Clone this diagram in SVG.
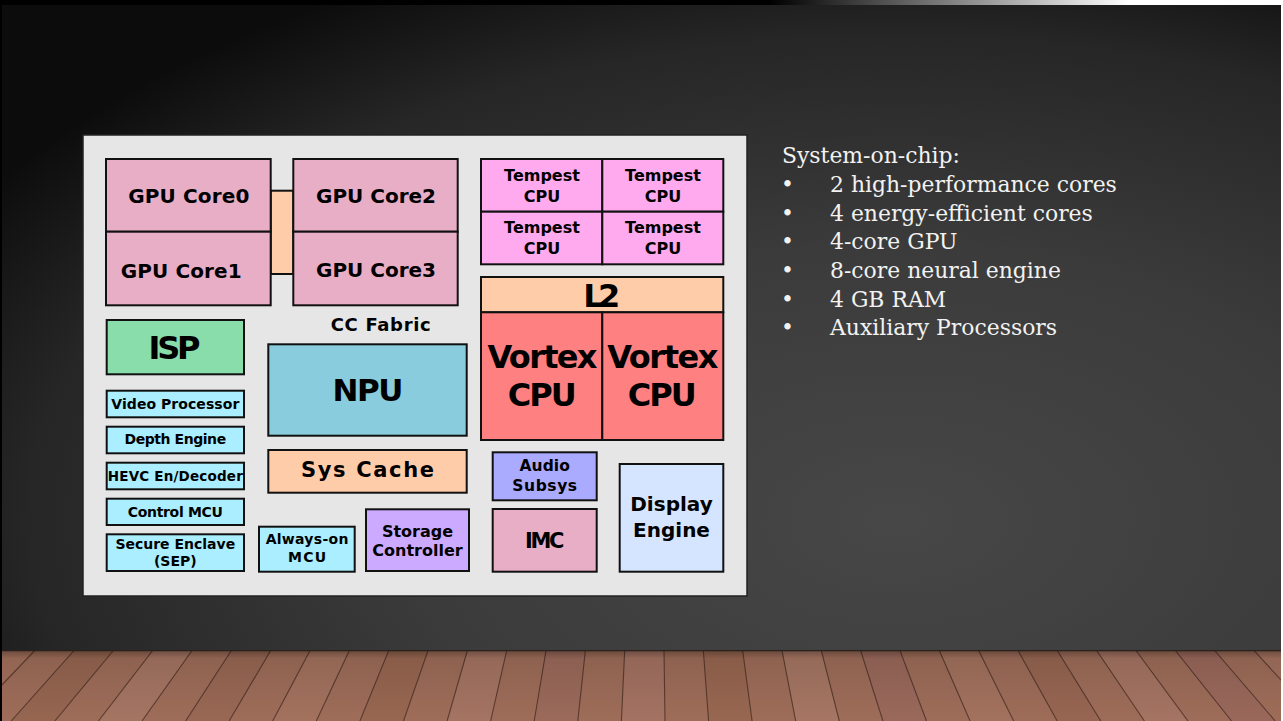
<svg xmlns="http://www.w3.org/2000/svg" width="1283" height="721" viewBox="0 0 1283 721">
<defs>
<radialGradient id="bg" cx="0.7" cy="0.72" r="0.85">
<stop offset="0" stop-color="#474747"/>
<stop offset="0.45" stop-color="#3b3b3b"/>
<stop offset="0.8" stop-color="#262626"/>
<stop offset="1" stop-color="#0c0c0c"/>
</radialGradient>
<linearGradient id="topstrip" x1="0" y1="0" x2="1" y2="0">
<stop offset="0.6" stop-color="#000"/>
<stop offset="0.88" stop-color="#fff"/>
</linearGradient>
<linearGradient id="floorshade" x1="0" y1="0" x2="0" y2="1">
<stop offset="0" stop-color="#000" stop-opacity="0.35"/>
<stop offset="0.12" stop-color="#000" stop-opacity="0.1"/>
<stop offset="1" stop-color="#000" stop-opacity="0"/>
</linearGradient>
<clipPath id="fc"><rect x="2" y="650" width="1279" height="71"/></clipPath>
<style>
.b{stroke:#111;stroke-width:2}
.t{font-family:"DejaVu Sans","Liberation Sans",sans-serif;font-weight:bold;fill:#000;text-anchor:middle}
.r{font-family:"DejaVu Serif","Liberation Serif",serif;font-size:21.9px;fill:#f2f2f2}
.pl{stroke:#4a2e24;stroke-width:1.1;stroke-opacity:0.8}
.gpu{fill:#e8aec6}
.tmp{fill:#ffaaee}
.vtx{fill:#ff8080}
.org{fill:#ffccaa}
.cy{fill:#aaeeff}
</style>
</defs>
<rect width="1283" height="721" fill="#fff"/>
<rect x="0" y="0" width="1283" height="5" fill="url(#topstrip)"/>
<rect x="0" y="5" width="1281" height="716" fill="#000"/>
<rect x="2" y="5" width="1279" height="716" fill="url(#bg)"/>

<g id="floor" clip-path="url(#fc)">
<rect x="2" y="650" width="1279" height="71" fill="#9e6d59"/>
<polygon points="-4.1,650 35.2,650 -32.4,721 -75.9,721" fill="#a3705c"/>
<polygon points="74.5,650 113.8,650 54.8,721 11.2,721" fill="#966651"/>
<polygon points="153.1,650 192.4,650 142,721 98.4,721" fill="#a57563"/>
<polygon points="231.7,650 271,650 229.1,721 185.6,721" fill="#996854"/>
<polygon points="310.3,650 349.6,650 316.3,721 272.7,721" fill="#a3725e"/>
<polygon points="388.9,650 428.2,650 403.5,721 359.9,721" fill="#986751"/>
<polygon points="467.5,650 506.8,650 490.6,721 447.1,721" fill="#a57462"/>
<polygon points="546.1,650 585.4,650 577.8,721 534.2,721" fill="#9b6a5b"/>
<polygon points="624.7,650 664,650 665,721 621.4,721" fill="#a47262"/>
<polygon points="703.3,650 742.6,650 752.1,721 708.6,721" fill="#986751"/>
<polygon points="781.9,650 821.2,650 839.3,721 795.7,721" fill="#a67663"/>
<polygon points="860.5,650 899.8,650 926.5,721 882.9,721" fill="#9a695b"/>
<polygon points="939.1,650 978.4,650 1013.7,721 970.1,721" fill="#a3725e"/>
<polygon points="1017.7,650 1057,650 1100.8,721 1057.2,721" fill="#976652"/>
<polygon points="1096.3,650 1135.6,650 1188,721 1144.4,721" fill="#a57462"/>
<polygon points="1174.9,650 1214.2,650 1275.2,721 1231.6,721" fill="#9a685b"/>
<polygon points="1253.5,650 1292.8,650 1362.3,721 1318.7,721" fill="#a3715e"/>
<g class="pl">
<line x1="-4.1" y1="650" x2="-75.9" y2="721"/>
<line x1="35.2" y1="650" x2="-32.4" y2="721"/>
<line x1="74.5" y1="650" x2="11.2" y2="721"/>
<line x1="113.8" y1="650" x2="54.8" y2="721"/>
<line x1="153.1" y1="650" x2="98.4" y2="721"/>
<line x1="192.4" y1="650" x2="142" y2="721"/>
<line x1="231.7" y1="650" x2="185.6" y2="721"/>
<line x1="271" y1="650" x2="229.1" y2="721"/>
<line x1="310.3" y1="650" x2="272.7" y2="721"/>
<line x1="349.6" y1="650" x2="316.3" y2="721"/>
<line x1="388.9" y1="650" x2="359.9" y2="721"/>
<line x1="428.2" y1="650" x2="403.5" y2="721"/>
<line x1="467.5" y1="650" x2="447.1" y2="721"/>
<line x1="506.8" y1="650" x2="490.6" y2="721"/>
<line x1="546.1" y1="650" x2="534.2" y2="721"/>
<line x1="585.4" y1="650" x2="577.8" y2="721"/>
<line x1="624.7" y1="650" x2="621.4" y2="721"/>
<line x1="664" y1="650" x2="665" y2="721"/>
<line x1="703.3" y1="650" x2="708.6" y2="721"/>
<line x1="742.6" y1="650" x2="752.1" y2="721"/>
<line x1="781.9" y1="650" x2="795.7" y2="721"/>
<line x1="821.2" y1="650" x2="839.3" y2="721"/>
<line x1="860.5" y1="650" x2="882.9" y2="721"/>
<line x1="899.8" y1="650" x2="926.5" y2="721"/>
<line x1="939.1" y1="650" x2="970.1" y2="721"/>
<line x1="978.4" y1="650" x2="1013.7" y2="721"/>
<line x1="1017.7" y1="650" x2="1057.2" y2="721"/>
<line x1="1057" y1="650" x2="1100.8" y2="721"/>
<line x1="1096.3" y1="650" x2="1144.4" y2="721"/>
<line x1="1135.6" y1="650" x2="1188" y2="721"/>
<line x1="1174.9" y1="650" x2="1231.6" y2="721"/>
<line x1="1214.2" y1="650" x2="1275.2" y2="721"/>
<line x1="1253.5" y1="650" x2="1318.7" y2="721"/>
</g>
<rect x="2" y="650" width="1279" height="71" fill="url(#floorshade)"/>
<line x1="2" y1="650.5" x2="1281" y2="650.5" stroke="#2a211d" stroke-width="1.5"/>
</g>

<g id="chip">
<rect x="83" y="135" width="664" height="461" fill="#e6e6e6" stroke="#222" stroke-width="1.5"/>
</g>
<g id="connectors"></g>

<g id="gpu-fabric"><rect class="org b" x="270.7" y="190.7" width="22.6" height="83.3"/></g>
<g id="gpu-core0"><rect class="gpu b" x="106" y="159" width="164.7" height="72.7"/><text class="t" x="188.8" y="202.7" font-size="20" textLength="121">GPU Core0</text></g>
<g id="gpu-core1"><rect class="gpu b" x="106" y="231.7" width="164.7" height="73.6"/><text class="t" x="181.2" y="277.7" font-size="20" textLength="121">GPU Core1</text></g>
<g id="gpu-core2"><rect class="gpu b" x="293.3" y="159" width="164.4" height="72.7"/><text class="t" x="376" y="202.7" font-size="20" textLength="120">GPU Core2</text></g>
<g id="gpu-core3"><rect class="gpu b" x="293.3" y="231.7" width="164.4" height="73.6"/><text class="t" x="376" y="276.7" font-size="20" textLength="120">GPU Core3</text></g>

<g id="tempest0"><rect class="tmp b" x="481" y="159" width="121.3" height="52.7"/><text class="t" x="542" y="180.7" font-size="16">Tempest</text><text class="t" x="542" y="202.3" font-size="16">CPU</text></g>
<g id="tempest1"><rect class="tmp b" x="602.3" y="159" width="121" height="52.7"/><text class="t" x="663" y="180.7" font-size="16">Tempest</text><text class="t" x="663" y="202.3" font-size="16">CPU</text></g>
<g id="tempest2"><rect class="tmp b" x="481" y="211.7" width="121.3" height="52.6"/><text class="t" x="542" y="232.7" font-size="16">Tempest</text><text class="t" x="542" y="254.3" font-size="16">CPU</text></g>
<g id="tempest3"><rect class="tmp b" x="602.3" y="211.7" width="121" height="52.6"/><text class="t" x="663" y="232.7" font-size="16">Tempest</text><text class="t" x="663" y="254.3" font-size="16">CPU</text></g>

<g id="l2"><rect class="org b" x="481" y="277" width="242.3" height="35.3"/><text class="t" x="601.7" y="306.7" font-size="32" textLength="37">L2</text></g>
<g id="vortex0"><rect class="vtx b" x="481" y="312.3" width="121.3" height="127.7"/><text class="t" x="542.5" y="368.3" font-size="32" textLength="110">Vortex</text><text class="t" x="542.2" y="406" font-size="32" textLength="69">CPU</text></g>
<g id="vortex1"><rect class="vtx b" x="602.3" y="312.3" width="121" height="127.7"/><text class="t" x="662.8" y="368.3" font-size="32" textLength="111">Vortex</text><text class="t" x="662.2" y="406" font-size="32" textLength="69">CPU</text></g>

<g id="cc-fabric"><text class="t" x="380.7" y="331.3" font-size="18" textLength="100">CC Fabric</text></g>
<g id="isp"><rect class="b" fill="#88ddaa" x="106.7" y="320" width="137.3" height="54.3"/><text class="t" x="174.5" y="359.3" font-size="32" textLength="52">ISP</text></g>
<g id="npu"><rect class="b" fill="#88ccdd" x="268.3" y="344.3" width="198.4" height="91.4"/><text class="t" x="368" y="401" font-size="31" textLength="71">NPU</text></g>
<g id="sys-cache"><rect class="org b" x="268.3" y="450" width="198.4" height="42.7"/><text class="t" x="367.5" y="476.7" font-size="21" textLength="133">Sys Cache</text></g>

<g id="video-processor"><rect class="cy b" x="106.7" y="390.7" width="137.3" height="26.6"/><text class="t" x="175.3" y="409.3" font-size="14" textLength="128">Video Processor</text></g>
<g id="depth-engine"><rect class="cy b" x="106.7" y="426.7" width="137.3" height="26.6"/><text class="t" x="175.3" y="444.3" font-size="14" textLength="101.7">Depth Engine</text></g>
<g id="hevc"><rect class="cy b" x="106.7" y="462.7" width="137.3" height="26.6"/><text class="t" x="175.3" y="480.7" font-size="13.5" textLength="135">HEVC En/Decoder</text></g>
<g id="control-mcu"><rect class="cy b" x="106.7" y="498.7" width="137.3" height="26.3"/><text class="t" x="175.3" y="516.7" font-size="14" textLength="95">Control MCU</text></g>
<g id="sep"><rect class="cy b" x="106.7" y="534.3" width="137.3" height="36.7"/><text class="t" x="175.3" y="549" font-size="14">Secure Enclave</text><text class="t" x="175.3" y="565.7" font-size="14">(SEP)</text></g>
<g id="always-on"><rect class="cy b" x="259" y="526.7" width="95.7" height="45"/><text class="t" x="307" y="544.3" font-size="14" textLength="82.7">Always-on</text><text class="t" x="307" y="562.3" font-size="14" textLength="38">MCU</text></g>
<g id="storage"><rect class="b" fill="#ccaaff" x="366" y="509.3" width="103" height="61.7"/><text class="t" x="417.5" y="536.7" font-size="16">Storage</text><text class="t" x="417.5" y="556" font-size="16">Controller</text></g>

<g id="audio"><rect class="b" fill="#aaaaff" x="492.7" y="452.3" width="104" height="48"/><text class="t" x="544.7" y="470.7" font-size="15.5" textLength="50.3">Audio</text><text class="t" x="544.7" y="490.7" font-size="15.5" textLength="64.7">Subsys</text></g>
<g id="imc"><rect class="gpu b" x="492.7" y="509" width="104" height="62.7"/><text class="t" x="544.7" y="548.3" font-size="21" textLength="39.3">IMC</text></g>
<g id="display"><rect class="b" fill="#d5e5ff" x="619.7" y="464" width="103.6" height="107.7"/><text class="t" x="671.5" y="511" font-size="20">Display</text><text class="t" x="671.5" y="536.7" font-size="20">Engine</text></g>

<g id="notes">
<text class="r" x="782" y="163.3">System-on-chip:</text>
<text class="r" x="781" y="192.3">•</text><text class="r" x="830" y="192.3">2 high-performance cores</text>
<text class="r" x="781" y="220.5">•</text><text class="r" x="830" y="220.5">4 energy-efficient cores</text>
<text class="r" x="781" y="249">•</text><text class="r" x="830" y="249">4-core GPU</text>
<text class="r" x="781" y="277.5">•</text><text class="r" x="830" y="277.5">8-core neural engine</text>
<text class="r" x="781" y="306.5">•</text><text class="r" x="830" y="306.5">4 GB RAM</text>
<text class="r" x="781" y="335">•</text><text class="r" x="830" y="335">Auxiliary Processors</text>
</g>
</svg>
